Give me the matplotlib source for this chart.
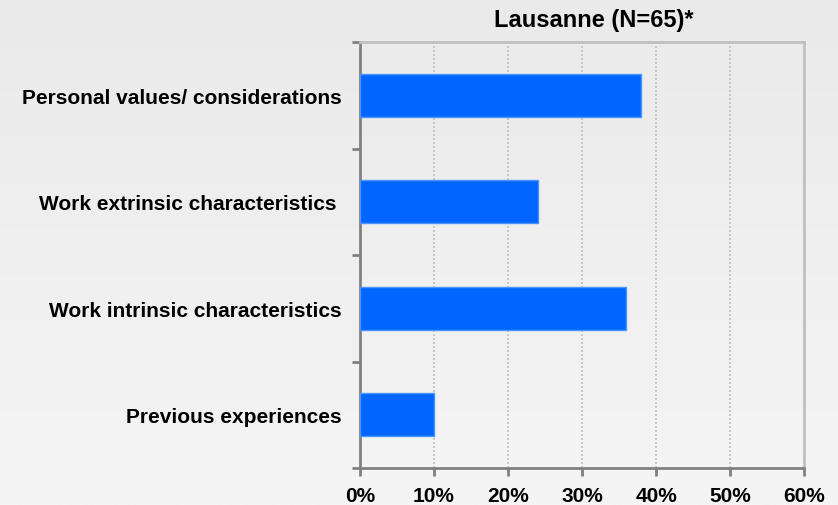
import numpy as np
import matplotlib
matplotlib.use("Agg")
import matplotlib.pyplot as plt
from matplotlib.colors import LinearSegmentedColormap

categories = ["Personal values/ considerations", "Work extrinsic characteristics ",
              "Work intrinsic characteristics", "Previous experiences"]
values = [38, 24, 36, 10]
xticks = [0, 10, 20, 30, 40, 50, 60]
xticklabels = ["0%", "10%", "20%", "30%", "40%", "50%", "60%"]
title = "Lausanne (N=65)*"

plt.rcParams['font.family'] = ['Liberation Sans', 'DejaVu Sans']
W, H = 838, 506
fig = plt.figure(figsize=(W / 100, H / 100), dpi=100)

# background gradient
bg = fig.add_axes([0, 0, 1, 1], zorder=-10)
grad = np.linspace(0, 1, 256).reshape(-1, 1)
cmap = LinearSegmentedColormap.from_list("bg", ["#eaeaea", "#f5f5f5"])
bg.imshow(grad, aspect='auto', cmap=cmap, extent=[0, 1, 1, 0])
bg.axis('off')

left, right, top, bottom = 360, 804, 43, 469
ax = fig.add_axes([left / W, 1 - bottom / H, (right - left) / W, (bottom - top) / H])
ax.patch.set_alpha(0)

y = np.arange(len(categories))
ax.barh(y, values, height=0.4, color="#0066ff", edgecolor="#4d94ff", linewidth=1, zorder=3)
ax.set_xlim(0, 60)
ax.set_ylim(len(categories) - 0.5, -0.5)

ax.set_xticks(xticks)
ax.set_xticklabels(xticklabels, fontsize=15, fontweight='bold')
ax.set_yticks(np.arange(-0.5, len(categories) + 0.5, 1))
ax.set_yticklabels([])
ax.set_yticks(y, minor=True)
ax.set_yticklabels(categories, minor=True, fontsize=15, fontweight='bold')
ax.tick_params(axis='y', which='minor', length=0, pad=13)
ax.tick_params(axis='y', which='major', length=6, width=2, color="#808080", direction='out')
ax.tick_params(axis='x', length=6, width=2, color="#808080", direction='out', pad=7)

ax.xaxis.grid(True, linestyle=(0, (1.2, 1.2)), color="#c0c0c0", linewidth=1.2, zorder=0)
ax.set_axisbelow(True)

for s in ['left', 'bottom']:
    ax.spines[s].set_color("#808080")
    ax.spines[s].set_linewidth(2)
for s in ['top', 'right']:
    ax.spines[s].set_color("#c0c0c0")
    ax.spines[s].set_linewidth(2)

fig.text(594 / W, 1 - 27 / H, title, ha='center', va='baseline', fontsize=17, fontweight='bold')

fig.savefig("out.png", dpi=100)
